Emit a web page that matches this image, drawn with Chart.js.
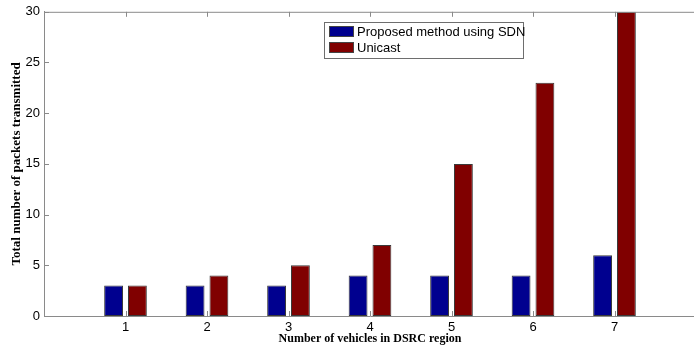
<!DOCTYPE html>
<html>
<head>
<meta charset="utf-8">
<script src="https://cdn.jsdelivr.net/npm/chart.js@4/dist/chart.umd.min.js"></script>
<style>
  html, body { margin: 0; padding: 0; background: #fff; overflow: hidden; }
  #wrap { width: 700px; height: 350px; }
</style>
</head>
<body>
<div id="wrap"><canvas id="c" width="700" height="350"></canvas></div>
<script>
const categories = ['0', '1', '2', '3', '4', '5', '6', '7', '8'];
const proposedSDN = [null, 3, 3, 3, 4, 4, 4, 6, null];
const unicast = [null, 3, 4, 5, 7, 15, 23, 30, null];
const yTicks = [0, 5, 10, 15, 20, 25, 30];
const seriesNames = ['Proposed method using SDN', 'Unicast'];
const seriesColors = ['#00008f', '#800000'];

const axisColor = '#8a8a8a';

const matlabAxes = {
  id: 'matlabAxes',
  afterDraw(chart) {
    const ctx = chart.ctx;
    const a = chart.chartArea;
    const x = chart.scales.x, y = chart.scales.y;
    ctx.save();
    ctx.strokeStyle = axisColor;
    ctx.lineWidth = 1;
    ctx.beginPath();
    ctx.moveTo(a.left, a.top + 0.5); ctx.lineTo(a.right, a.top + 0.5);
    yTicks.forEach(v => {
      const py = Math.round(y.getPixelForValue(v)) + 0.5;
      ctx.moveTo(a.left, py); ctx.lineTo(a.left + 5, py);
    });
    for (let i = 1; i <= 7; i++) {
      const px = Math.round(x.getPixelForValue(i)) + 0.5;
      ctx.moveTo(px, a.top); ctx.lineTo(px, a.top + 5);
      ctx.moveTo(px, a.bottom); ctx.lineTo(px, a.bottom - 5);
    }
    ctx.stroke();

    const lx = 324, ly = 22, lw = 199, lh = 36;
    ctx.fillStyle = '#fff';
    ctx.fillRect(lx, ly, lw, lh);
    ctx.strokeStyle = '#6e6e6e';
    ctx.strokeRect(lx + 0.5, ly + 0.5, lw, lh);
    ctx.font = '13px "Liberation Sans", Arial, sans-serif';
    ctx.textBaseline = 'middle';
    chart.data.datasets.forEach((ds, i) => {
      const sy = ly + 4 + i * 16;
      ctx.fillStyle = ds.backgroundColor;
      ctx.fillRect(lx + 5, sy, 25, 11);
      ctx.strokeStyle = '#444';
      ctx.strokeRect(lx + 5.5, sy + 0.5, 24, 10);
      ctx.fillStyle = '#000';
      ctx.fillText(ds.label, lx + 33, sy + 6);
    });
    ctx.restore();
  }
};

new Chart(document.getElementById('c'), {
  type: 'bar',
  data: {
    labels: categories,
    datasets: [
      { label: seriesNames[0], data: proposedSDN, backgroundColor: seriesColors[0], borderColor: '#3a3a3a', borderWidth: 1, borderSkipped: false },
      { label: seriesNames[1], data: unicast, backgroundColor: seriesColors[1], borderColor: '#3a3a3a', borderWidth: 1, borderSkipped: false }
    ]
  },
  options: {
    responsive: false,
    animation: false,
    devicePixelRatio: 1,
    layout: { padding: { top: 10, left: 0, right: 0, bottom: 0 } },
    datasets: { bar: { categoryPercentage: 0.585, barPercentage: 0.79 } },
    plugins: { legend: { display: false }, tooltip: { enabled: false } },
    scales: {
      x: {
        offset: false,
        grid: { display: false, drawTicks: false },
        border: { display: true, color: axisColor },
        ticks: {
          color: '#000',
          font: { family: '"Liberation Sans", Arial, sans-serif', size: 13 },
          padding: 4,
          maxRotation: 0,
          autoSkip: false,
          callback: function(v, i) { const l = categories[i]; return (l === '0' || l === '8') ? '' : l; }
        },
        title: {
          display: true,
          text: 'Number of vehicles in DSRC region',
          color: '#000',
          font: { family: '"Liberation Serif", "Times New Roman", serif', size: 12, weight: 'bold' },
          padding: { top: 0, bottom: 4 }
        },
        afterFit(s) { s.height = 34; }
      },
      y: {
        min: 0, max: 30,
        grid: { display: false, drawTicks: false },
        border: { display: true, color: axisColor },
        afterBuildTicks(s) { s.ticks = yTicks.map(v => ({ value: v })); },
        ticks: {
          color: '#000',
          font: { family: '"Liberation Sans", Arial, sans-serif', size: 13 },
          padding: 4
        },
        title: {
          display: true,
          text: 'Total number of packets transmitted',
          color: '#000',
          font: { family: '"Liberation Serif", "Times New Roman", serif', size: 13, weight: 'bold' },
          padding: { top: 9, bottom: 0 }
        },
        afterFit(s) { s.width = 44; }
      }
    }
  },
  plugins: [matlabAxes]
});
</script>
</body>
</html>
